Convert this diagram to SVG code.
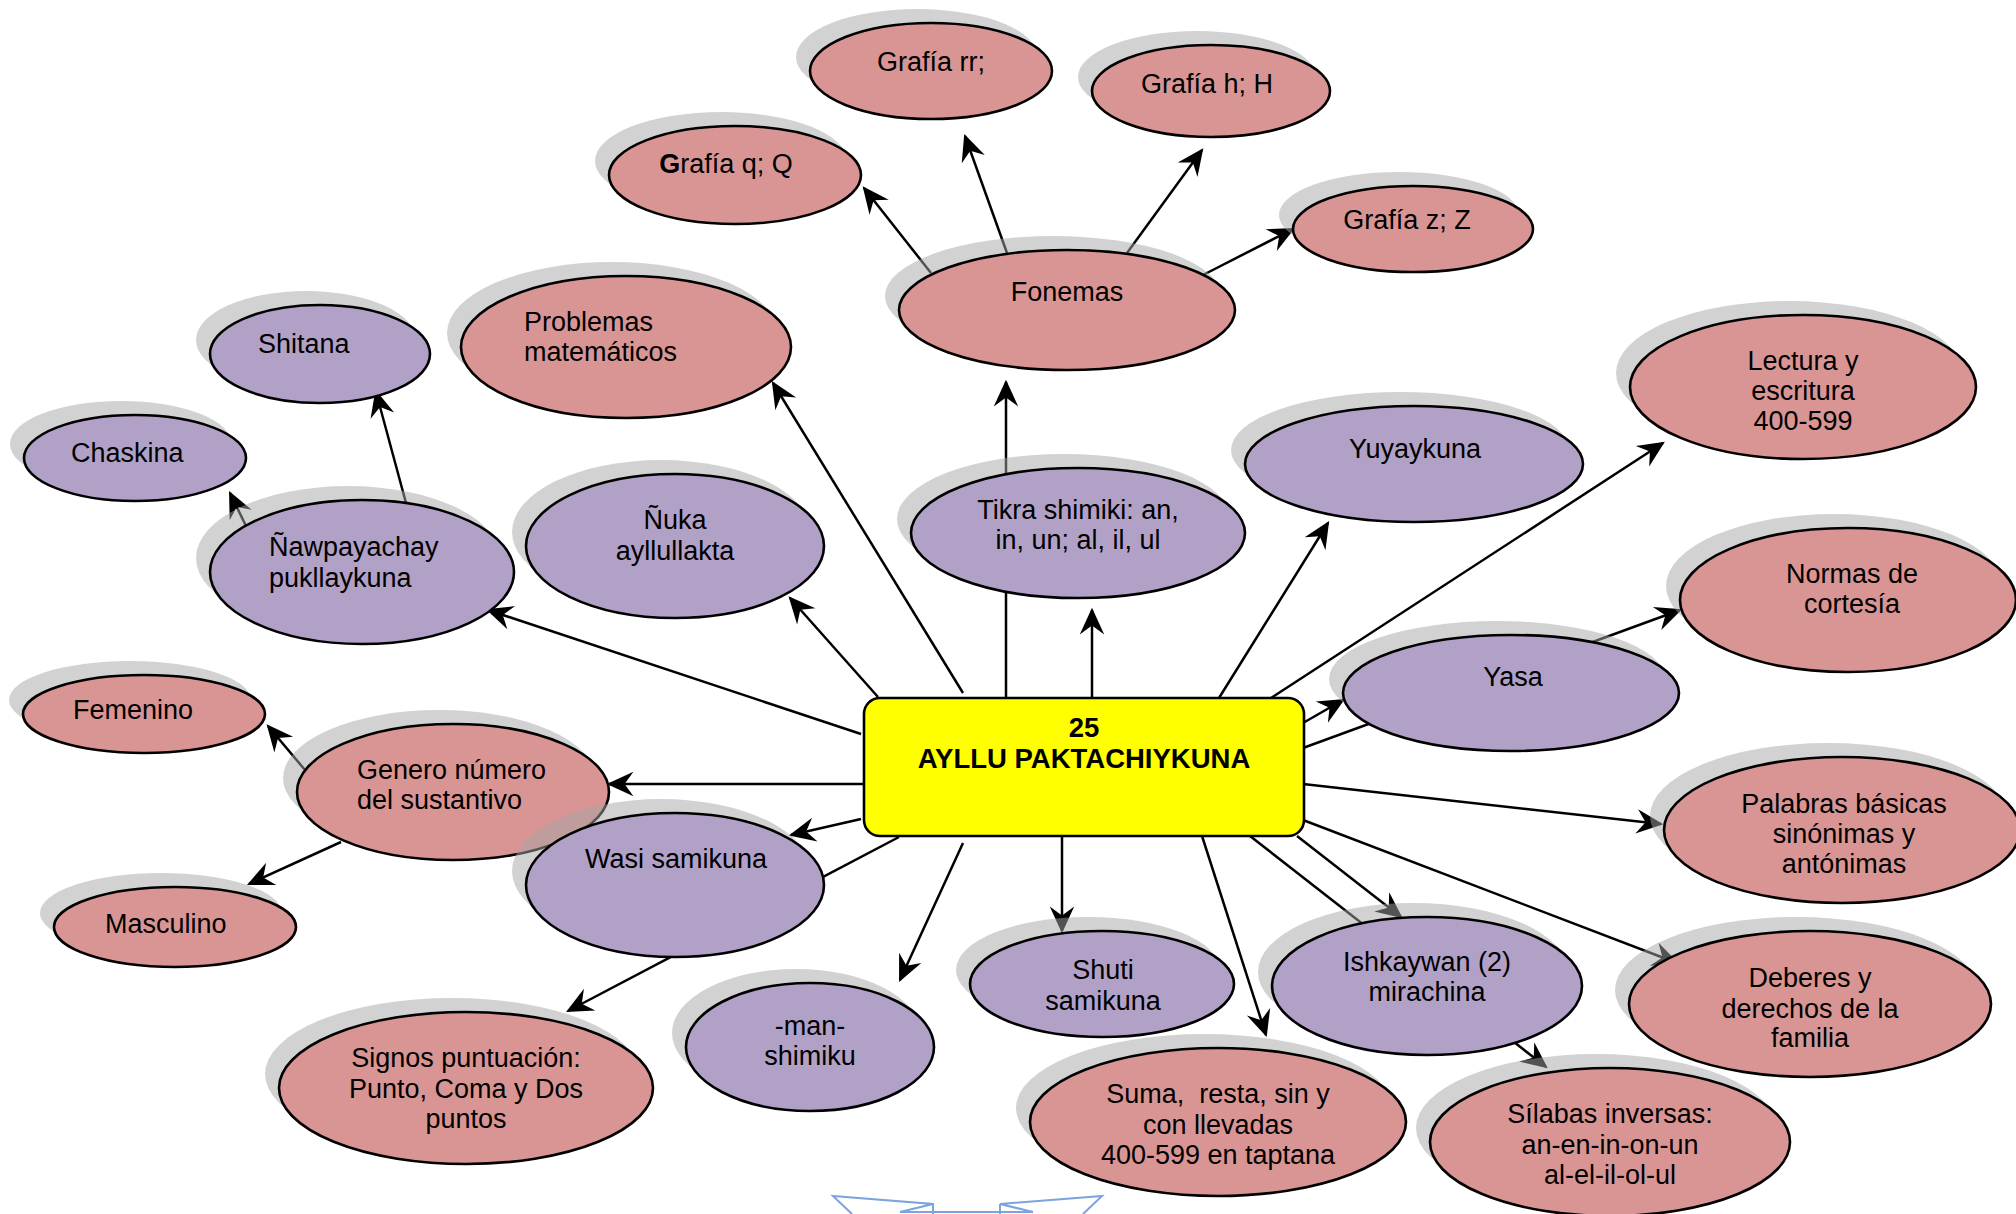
<svg xmlns="http://www.w3.org/2000/svg" width="2016" height="1214" viewBox="0 0 2016 1214">
<style>
  .s{fill:#a6a6a6;fill-opacity:.5;stroke:none}
  .p{fill:#d99594;stroke:#000;stroke-width:2.6}
  .v{fill:#b2a1c7;stroke:#000;stroke-width:2.6}
  text{font-family:"Liberation Sans",Arial,sans-serif;font-size:27px;fill:#000}
  .m{text-anchor:middle}
  #connectors line{stroke:#000;stroke-width:2.5;marker-end:url(#ah)}
  .box{fill:#ffff00;stroke:#000;stroke-width:2.6}
  .b{font-weight:bold}
  .big{font-size:27.5px}
</style>
<defs>
  <marker id="ah" markerUnits="userSpaceOnUse" markerWidth="40" markerHeight="40" viewBox="-30 -15 36 30" refX="-2" refY="0" orient="auto" overflow="visible">
    <path d="M0,0 L-24,-11 L-16,0 L-24,11 Z" fill="#000"/>
  </marker>
</defs>
<rect width="2016" height="1214" fill="#fff"/>

<g id="connectors">
  <line x1="931" y1="273" x2="864" y2="188"/>
  <line x1="1007" y1="253" x2="965" y2="136"/>
  <line x1="1127" y1="253" x2="1202" y2="150"/>
  <line x1="1203" y1="275" x2="1293" y2="229"/>
  <line x1="406" y1="503" x2="376" y2="392"/>
  <line x1="246" y1="526" x2="230" y2="493"/>
  <line x1="305" y1="770" x2="268" y2="726"/>
  <line x1="341" y1="842" x2="249" y2="884"/>
  <line x1="963" y1="693" x2="773" y2="383"/>
  <line x1="878" y1="697" x2="790" y2="598"/>
  <line x1="1006" y1="698" x2="1006" y2="382"/>
  <line x1="1092" y1="698" x2="1092" y2="610"/>
  <line x1="1219" y1="698" x2="1328" y2="523"/>
  <line x1="1271" y1="698" x2="1663" y2="443"/>
  <line x1="1303" y1="723" x2="1343" y2="700"/>
  <line x1="1303" y1="748" x2="1680" y2="610"/>
  <line x1="1303" y1="784" x2="1661" y2="824"/>
  <line x1="1303" y1="820" x2="1677" y2="963"/>
  <line x1="1297" y1="836" x2="1401" y2="917"/>
  <line x1="1250" y1="836" x2="1546" y2="1067"/>
  <line x1="1202" y1="836" x2="1266" y2="1035"/>
  <line x1="1062" y1="836" x2="1062" y2="931"/>
  <line x1="963" y1="843" x2="900" y2="980"/>
  <line x1="899" y1="837" x2="568" y2="1011"/>
  <line x1="861" y1="819" x2="791" y2="835"/>
  <line x1="864" y1="784" x2="609" y2="784"/>
  <line x1="861" y1="734" x2="488" y2="610"/>
</g>

<g id="n-grafia-rr"><ellipse class="s" cx="917" cy="57" rx="121" ry="48"/><ellipse class="p" cx="931" cy="71" rx="121" ry="48"/><text class="m" x="931" y="71">Grafía rr;</text></g>
<g id="n-grafia-h"><ellipse class="s" cx="1197" cy="77" rx="119" ry="46"/><ellipse class="p" cx="1211" cy="91" rx="119" ry="46"/><text class="m" x="1207" y="93">Grafía h; H</text></g>
<g id="n-grafia-q"><ellipse class="s" cx="721" cy="161" rx="126" ry="49"/><ellipse class="p" cx="735" cy="175" rx="126" ry="49"/><text class="m" x="726" y="173"><tspan class="b">G</tspan>rafía q; Q</text></g>
<g id="n-grafia-z"><ellipse class="s" cx="1399" cy="215" rx="120" ry="43"/><ellipse class="p" cx="1413" cy="229" rx="120" ry="43"/><text class="m" x="1407" y="229">Grafía z; Z</text></g>
<g id="n-fonemas"><ellipse class="s" cx="1053" cy="296" rx="168" ry="60"/><ellipse class="p" cx="1067" cy="310" rx="168" ry="60"/><text class="m" x="1067" y="301">Fonemas</text></g>
<g id="n-problemas"><ellipse class="s" cx="612" cy="333" rx="165" ry="71"/><ellipse class="p" cx="626" cy="347" rx="165" ry="71"/><text x="524" y="331">Problemas</text><text x="524" y="361">matemáticos</text></g>
<g id="n-shitana"><ellipse class="s" cx="306" cy="340" rx="110" ry="49"/><ellipse class="v" cx="320" cy="354" rx="110" ry="49"/><text x="258" y="353">Shitana</text></g>
<g id="n-chaskina"><ellipse class="s" cx="121" cy="444" rx="111" ry="43"/><ellipse class="v" cx="135" cy="458" rx="111" ry="43"/><text x="71" y="462">Chaskina</text></g>
<g id="n-nawpayachay"><ellipse class="s" cx="348" cy="558" rx="152" ry="72"/><ellipse class="v" cx="362" cy="572" rx="152" ry="72"/><text x="269" y="556">Ñawpayachay</text><text x="269" y="587">pukllaykuna</text></g>
<g id="n-nuka"><ellipse class="s" cx="661" cy="532" rx="149" ry="72"/><ellipse class="v" cx="675" cy="546" rx="149" ry="72"/><text class="m" x="675" y="529">Ñuka</text><text class="m" x="675" y="560">ayllullakta</text></g>
<g id="n-tikra"><ellipse class="s" cx="1064" cy="519" rx="167" ry="65"/><ellipse class="v" cx="1078" cy="533" rx="167" ry="65"/><text class="m" x="1078" y="519">Tikra shimiki: an,</text><text class="m" x="1078" y="549">in, un; al, il, ul</text></g>
<g id="n-yuyaykuna"><ellipse class="s" cx="1400" cy="450" rx="169" ry="58"/><ellipse class="v" cx="1414" cy="464" rx="169" ry="58"/><text class="m" x="1415" y="458">Yuyaykuna</text></g>
<g id="n-lectura"><ellipse class="s" cx="1789" cy="373" rx="173" ry="72"/><ellipse class="p" cx="1803" cy="387" rx="173" ry="72"/><text class="m" x="1803" y="370">Lectura y</text><text class="m" x="1803" y="400">escritura</text><text class="m" x="1803" y="430">400-599</text></g>
<g id="n-normas"><ellipse class="s" cx="1834" cy="586" rx="168" ry="72"/><ellipse class="p" cx="1848" cy="600" rx="168" ry="72"/><text class="m" x="1852" y="583">Normas de</text><text class="m" x="1852" y="613">cortesía</text></g>
<g id="n-yasa"><ellipse class="s" cx="1497" cy="679" rx="168" ry="58"/><ellipse class="v" cx="1511" cy="693" rx="168" ry="58"/><text class="m" x="1513" y="686">Yasa</text></g>
<g id="n-femenino"><ellipse class="s" cx="130" cy="700" rx="121" ry="39"/><ellipse class="p" cx="144" cy="714" rx="121" ry="39"/><text x="73" y="719">Femenino</text></g>
<g id="n-genero"><ellipse class="s" cx="439" cy="778" rx="156" ry="68"/><ellipse class="p" cx="453" cy="792" rx="156" ry="68"/><text x="357" y="779">Genero número</text><text x="357" y="809">del sustantivo</text></g>
<g id="n-wasi"><ellipse class="s" cx="661" cy="871" rx="149" ry="72"/><ellipse class="v" cx="675" cy="885" rx="149" ry="72"/><text class="m" x="676" y="868">Wasi samikuna</text></g>
<g id="n-masculino"><ellipse class="s" cx="161" cy="913" rx="121" ry="40"/><ellipse class="p" cx="175" cy="927" rx="121" ry="40"/><text x="105" y="933">Masculino</text></g>
<g id="n-signos"><ellipse class="s" cx="452" cy="1074" rx="187" ry="76"/><ellipse class="p" cx="466" cy="1088" rx="187" ry="76"/><text class="m" x="466" y="1067">Signos puntuación:</text><text class="m" x="466" y="1098">Punto, Coma y Dos</text><text class="m" x="466" y="1128">puntos</text></g>
<g id="n-man"><ellipse class="s" cx="796" cy="1033" rx="124" ry="64"/><ellipse class="v" cx="810" cy="1047" rx="124" ry="64"/><text class="m" x="810" y="1035">-man-</text><text class="m" x="810" y="1065">shimiku</text></g>
<g id="n-shuti"><ellipse class="s" cx="1088" cy="970" rx="132" ry="53"/><ellipse class="v" cx="1102" cy="984" rx="132" ry="53"/><text class="m" x="1103" y="979">Shuti</text><text class="m" x="1103" y="1010">samikuna</text></g>
<g id="n-suma"><ellipse class="s" cx="1204" cy="1108" rx="188" ry="74"/><ellipse class="p" cx="1218" cy="1122" rx="188" ry="74"/><text class="m" x="1218" y="1103" xml:space="preserve">Suma,  resta, sin y</text><text class="m" x="1218" y="1134">con llevadas</text><text class="m" x="1218" y="1164">400-599 en taptana</text></g>
<g id="n-ishkaywan"><ellipse class="s" cx="1413" cy="972" rx="155" ry="69"/><ellipse class="v" cx="1427" cy="986" rx="155" ry="69"/><text class="m" x="1427" y="971">Ishkaywan (2)</text><text class="m" x="1427" y="1001">mirachina</text></g>
<g id="n-silabas"><ellipse class="s" cx="1596" cy="1128" rx="180" ry="74"/><ellipse class="p" cx="1610" cy="1142" rx="180" ry="74"/><text class="m" x="1610" y="1123">Sílabas inversas:</text><text class="m" x="1610" y="1154">an-en-in-on-un</text><text class="m" x="1610" y="1184">al-el-il-ol-ul</text></g>
<g id="n-palabras"><ellipse class="s" cx="1828" cy="816" rx="178" ry="73"/><ellipse class="p" cx="1842" cy="830" rx="178" ry="73"/><text class="m" x="1844" y="813">Palabras básicas</text><text class="m" x="1844" y="843">sinónimas y</text><text class="m" x="1844" y="873">antónimas</text></g>
<g id="n-deberes"><ellipse class="s" cx="1796" cy="990" rx="181" ry="73"/><ellipse class="p" cx="1810" cy="1004" rx="181" ry="73"/><text class="m" x="1810" y="987">Deberes y</text><text class="m" x="1810" y="1018">derechos de la</text><text class="m" x="1810" y="1047">familia</text></g>

<g id="n-center"><rect class="box" x="864" y="698" width="440" height="138" rx="16"/><text class="m b big" x="1084" y="737">25</text><text class="m b big" x="1084" y="768">AYLLU PAKTACHIYKUNA</text></g>

<path d="M852,1214 L833,1196 L933,1204 L933,1214 M933,1204 L900,1212 L1033,1212 L1000,1204 L1102,1196 L1083,1214 M1000,1204 L1000,1214" fill="none" stroke="#7ba3dc" stroke-width="2"/>
</svg>
